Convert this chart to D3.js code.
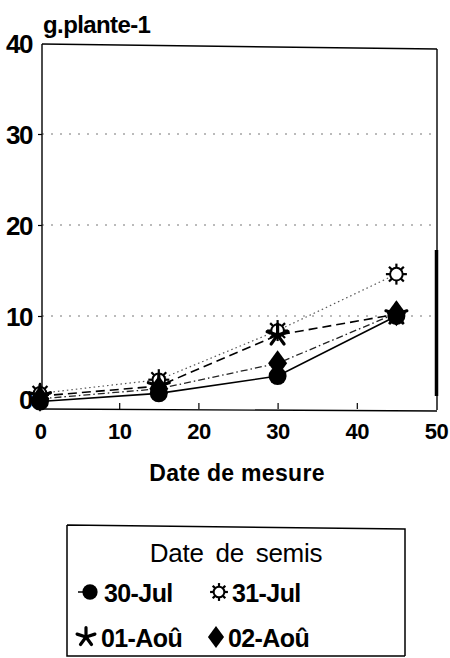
<!DOCTYPE html>
<html>
<head>
<meta charset="utf-8">
<script src="https://cdn.jsdelivr.net/npm/d3@7"></script>
<style>
  html, body { margin: 0; padding: 0; background: #fff; }
  svg { display: block; }
  text { font-family: "Liberation Sans", Arial, Helvetica, sans-serif; fill: #000; }
</style>
</head>
<body>
<svg id="chart" width="450" height="658"></svg>
<script>
// Measurement days (x) and plant dry weight in g/plant for each sowing date
const days = [0, 15, 30, 45];
const seriesNames = ["30-Jul", "31-Jul", "01-Aoû", "02-Aoû"];
const jul30 = [0.6, 1.5, 3.4, 10.0];
const jul31 = [1.5, 3.0, 8.4, 14.6];
const aou01 = [1.2, 2.3, 7.9, 10.2];
const aou02 = [0.9, 2.0, 4.8, 10.3];
const xTicks = [0, 10, 20, 30, 40, 50];
const yTicks = [0, 10, 20, 30, 40];
const gridValues = [10, 20, 30];
const yUnit = "g.plante-1";
const xTitle = "Date de mesure";
const legendTitle = "Date de semis";

const svg = d3.select("#chart");

const x = d3.scaleLinear().domain([0, 50]).range([40, 436]);
const y = d3.scaleLinear().domain([0, 40]).range([407, 43]);

const frame = { left: 42, right: 437, top: 44, bottom: 410 };

// horizontal dotted grid lines
svg.append("g")
  .selectAll("line")
  .data(gridValues)
  .join("line")
  .attr("x1", frame.left).attr("x2", frame.right)
  .attr("y1", d => y(d)).attr("y2", d => y(d))
  .attr("stroke", "#777").attr("stroke-width", 1)
  .attr("stroke-dasharray", "2,7");

// plot frame
const fr = svg.append("g").attr("stroke", "#000").attr("fill", "none");
fr.append("line").attr("x1", frame.left).attr("x2", frame.left).attr("y1", frame.top).attr("y2", frame.bottom).attr("stroke-width", 1.4);
fr.append("line").attr("x1", frame.left).attr("x2", frame.right).attr("y1", frame.top).attr("y2", frame.top + 5).attr("stroke-width", 1.4);
fr.append("line").attr("x1", frame.right).attr("x2", frame.right).attr("y1", frame.top + 5).attr("y2", frame.bottom).attr("stroke-width", 1.4);
fr.append("line").attr("x1", frame.right - 0.5).attr("x2", frame.right - 0.5).attr("y1", 250).attr("y2", 396).attr("stroke-width", 3.5);
fr.append("line").attr("x1", frame.left).attr("x2", frame.right).attr("y1", frame.bottom - 1).attr("y2", frame.bottom + 1).attr("stroke-width", 1.4);

// y axis: labels on the left with small outer ticks
const yAxis = d3.axisLeft(y).tickValues(yTicks).tickSize(4).tickPadding(6);
const gy = svg.append("g").attr("transform", `translate(${frame.left},0)`).call(yAxis);
gy.select(".domain").remove();
gy.selectAll(".tick line").attr("stroke", "#000").attr("stroke-width", 1.2);
gy.selectAll(".tick text")
  .style("font-size", "26px").style("font-weight", "bold")
  .style("font-family", "'Liberation Sans', Arial, sans-serif")
  .attr("fill", "#000")
  .attr("dy", (d) => d === 0 ? "0.05em" : "0.36em")
  .attr("letter-spacing", "-1.5");
gy.selectAll(".tick").filter(d => d === 0 || d === 40).select("line").remove();

// x axis: inner ticks rising from the bottom edge
const xAxis = d3.axisBottom(x).tickValues(xTicks).tickSize(-6).tickPadding(14);
const gx = svg.append("g").attr("transform", `translate(0,${frame.bottom - 1})`).call(xAxis);
gx.select(".domain").remove();
gx.selectAll(".tick line").attr("stroke", "#000").attr("stroke-width", 1.2);
gx.selectAll(".tick").filter(d => d === 0 || d === 50).select("line").remove();
gx.selectAll(".tick text")
  .style("font-size", "22px").style("font-weight", "bold")
  .style("font-family", "'Liberation Sans', Arial, sans-serif")
  .attr("letter-spacing", "-0.5")
  .attr("fill", "#000");

// unit label above the y axis
svg.append("text")
  .attr("x", 43).attr("y", 33)
  .style("font-size", "24px").style("font-weight", "bold")
  .attr("letter-spacing", "-0.6")
  .text(yUnit);

// x axis title
svg.append("text")
  .attr("x", 237).attr("y", 481)
  .attr("text-anchor", "middle")
  .style("font-size", "23px").style("font-weight", "bold")
  .attr("letter-spacing", "0.3")
  .text(xTitle);

// marker shapes
function drawMarker(g, type, cx, cy, scale) {
  const s = scale || 1;
  if (type === "circle") {
    g.append("circle").attr("cx", cx).attr("cy", cy).attr("r", 9 * s).attr("fill", "#000");
  } else if (type === "sun") {
    const rays = d3.range(8).map(i => i * Math.PI / 4);
    g.append("g").selectAll("line").data(rays).join("line")
      .attr("x1", a => cx + Math.cos(a) * 6 * s).attr("y1", a => cy + Math.sin(a) * 6 * s)
      .attr("x2", a => cx + Math.cos(a) * 10.5 * s).attr("y2", a => cy + Math.sin(a) * 10.5 * s)
      .attr("stroke", "#000").attr("stroke-width", 2.2);
    g.append("circle").attr("cx", cx).attr("cy", cy).attr("r", 6.3 * s)
      .attr("fill", "#fff").attr("stroke", "#000").attr("stroke-width", 2);
  } else if (type === "asterisk") {
    const arms = d3.range(5).map(i => -Math.PI / 2 + i * 2 * Math.PI / 5);
    g.append("g").selectAll("line").data(arms).join("line")
      .attr("x1", cx).attr("y1", cy)
      .attr("x2", a => cx + Math.cos(a) * 11 * s).attr("y2", a => cy + Math.sin(a) * 11 * s)
      .attr("stroke", "#000").attr("stroke-width", 3.2).attr("stroke-linecap", "round");
  } else if (type === "diamond") {
    const w = 9.5 * s, h = 13 * s;
    g.append("path")
      .attr("d", `M${cx},${cy - h}L${cx + w},${cy}L${cx},${cy + h}L${cx - w},${cy}Z`)
      .attr("fill", "#000");
  }
}

const series = [
  { name: seriesNames[0], values: jul30, marker: "circle", dash: null, color: "#000", width: 1.6 },
  { name: seriesNames[1], values: jul31, marker: "sun", dash: "1.5,3", color: "#555", width: 1.2 },
  { name: seriesNames[2], values: aou01, marker: "asterisk", dash: "9,5", color: "#000", width: 1.6 },
  { name: seriesNames[3], values: aou02, marker: "diamond", dash: "7,3,1.5,3", color: "#222", width: 1.3 }
];

const line = d3.line().x(d => x(d[0])).y(d => y(d[1]));

const linesG = svg.append("g").attr("fill", "none");
series.forEach(s => {
  linesG.append("path")
    .attr("d", line(days.map((d, i) => [d, s.values[i]])))
    .attr("stroke", s.color)
    .attr("stroke-width", s.width)
    .attr("stroke-dasharray", s.dash);
});

// markers drawn in the order the lines are stacked
const markG = svg.append("g");
[series[1], series[2], series[0], series[3]].forEach(s => {
  days.forEach((d, i) => drawMarker(markG, s.marker, x(d), y(s.values[i])));
});

// legend box
const lg = svg.append("g");
lg.append("path")
  .attr("d", "M67,525L405,529L405,656M67,525L67,656L405,656")
  .attr("fill", "none").attr("stroke", "#000").attr("stroke-width", 1.5);

lg.append("text")
  .attr("x", 236).attr("y", 562)
  .attr("text-anchor", "middle")
  .style("font-size", "26px")
  .attr("word-spacing", "5")
  .attr("letter-spacing", "-0.3")
  .text(legendTitle);

const legendItems = [
  { s: series[0], mx: 90, my: 592, tx: 104, ty: 602 },
  { s: series[1], mx: 219, my: 592, tx: 232, ty: 602 },
  { s: series[2], mx: 86, my: 637, tx: 101, ty: 647 },
  { s: series[3], mx: 216, my: 637, tx: 228, ty: 647 }
];
legendItems.forEach(it => {
  if (it.s.marker === "circle") {
    lg.append("line").attr("x1", it.mx - 12).attr("x2", it.mx).attr("y1", it.my).attr("y2", it.my)
      .attr("stroke", "#000").attr("stroke-width", 1.5);
  }
  drawMarker(lg, it.s.marker, it.mx, it.my, 0.85);
  lg.append("text")
    .attr("x", it.tx).attr("y", it.ty)
    .style("font-size", "25px").style("font-weight", "bold")
    .attr("letter-spacing", "-0.6")
    .text(it.s.name);
});
</script>
</body>
</html>
